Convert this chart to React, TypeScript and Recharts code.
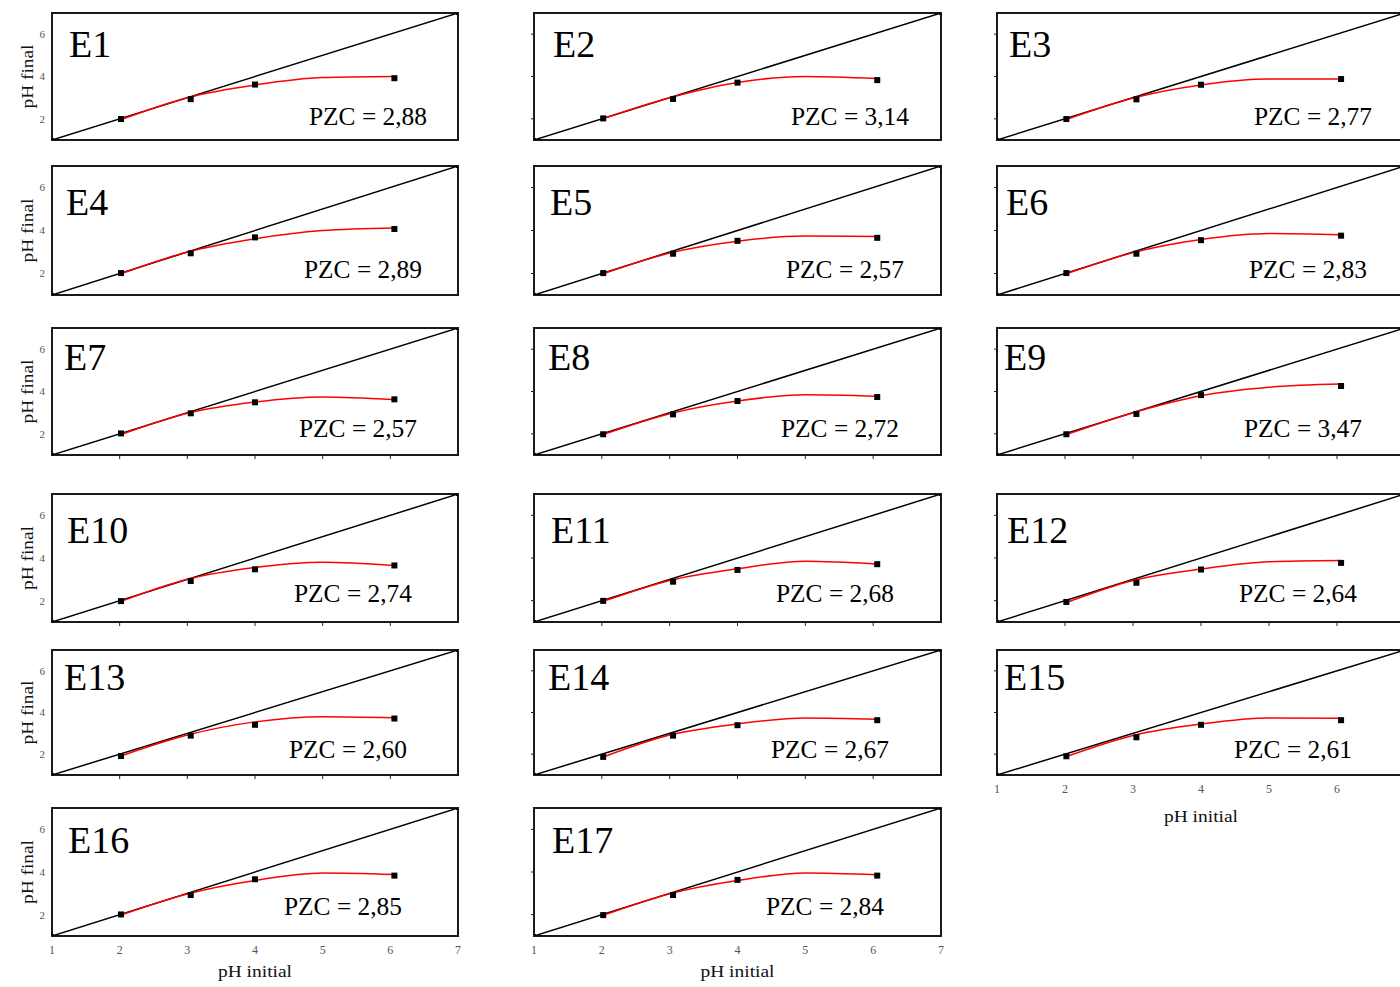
import React from 'react'
import { ComposedChart, XAxis, YAxis, Line, Scatter, ReferenceArea } from 'recharts'

const panelNames = ['E1', 'E2', 'E3', 'E4', 'E5', 'E6', 'E7', 'E8', 'E9', 'E10', 'E11', 'E12', 'E13', 'E14', 'E15', 'E16', 'E17']
const pzcValues = ['2,88', '3,14', '2,77', '2,89', '2,57', '2,83', '2,57', '2,72', '3,47', '2,74', '2,68', '2,64', '2,60', '2,67', '2,61', '2,85', '2,84']

// measured points (pH initial -> pH final)
const markerX = [2.02, 3.05, 4.0, 6.06]
const markerY = [
    [1.99, 2.93, 3.62, 3.92],
    [2.02, 2.94, 3.71, 3.83],
    [1.99, 2.92, 3.61, 3.88],
    [2.02, 2.94, 3.68, 4.07],
    [2.02, 2.92, 3.52, 3.66],
    [2.02, 2.92, 3.55, 3.76],
    [2.02, 2.97, 3.49, 3.63],
    [1.98, 2.92, 3.55, 3.74],
    [1.98, 2.94, 3.83, 4.26],
    [1.98, 2.92, 3.47, 3.65],
    [1.99, 2.89, 3.44, 3.71],
    [1.94, 2.84, 3.46, 3.77],
    [1.91, 2.89, 3.41, 3.71],
    [1.87, 2.89, 3.39, 3.63],
    [1.9, 2.81, 3.41, 3.63],
    [2.01, 2.92, 3.66, 3.83],
    [1.98, 2.92, 3.63, 3.83],
]

// red fitted curve
const curveX = [2.05, 3, 4, 5, 6.05]
const curveY = [
    [2.0, 3.0, 3.6, 3.95, 4.0],
    [2.05, 3.0, 3.72, 4.0, 3.9],
    [2.0, 2.98, 3.6, 3.88, 3.88],
    [2.02, 3.0, 3.62, 4.0, 4.12],
    [2.02, 2.95, 3.5, 3.74, 3.72],
    [2.02, 2.97, 3.58, 3.86, 3.8],
    [2.0, 2.97, 3.5, 3.74, 3.62],
    [2.0, 2.95, 3.55, 3.85, 3.78],
    [2.0, 3.0, 3.8, 4.2, 4.35],
    [2.0, 3.0, 3.55, 3.8, 3.65],
    [2.0, 2.95, 3.5, 3.85, 3.72],
    [1.95, 2.95, 3.48, 3.82, 3.88],
    [1.95, 2.92, 3.55, 3.8, 3.75],
    [1.9, 2.92, 3.45, 3.74, 3.68],
    [1.92, 2.9, 3.45, 3.74, 3.72],
    [2.02, 2.97, 3.6, 3.95, 3.88],
    [2.0, 2.98, 3.6, 3.95, 3.87],
]

const diagonal = [1, 7]
const axisTicks = [1, 2, 3, 4, 5, 6, 7]

// layout
const colLeft = [52, 534, 997]
const colWidth = [406, 407, 408]
const rowTop = [13, 166, 328, 494, 650, 808]
const rowBottom = [140, 295, 455, 622, 775, 936]
const titleDx = [14, 16, 9]
const titleRowDx = [3, 0, -2, 1, -2, 2]
const titleDy = [44, 49, 42, 49, 40, 45]
const pzcDy = [15, 17, 18, 20, 17, 21]

const AXIS_W = 50
const AXIS_H = 60
const PAD_T = 10
const PAD_R = 10
const SERIF = "'Liberation Serif', 'Times New Roman', serif"

const noLabel = () => <g />

function Panel({ index }: { index: number }) {
    const row = Math.floor(index / 3)
    const col = index % 3
    const boxW = colWidth[col]
    const boxH = rowBottom[row] - rowTop[row]
    const isBottom = index >= 14

    const markers = markerX.map((x, k) => ({ x, y: markerY[index][k] }))
    const curve = curveX.map((x, k) => ({ x, y: curveY[index][k] }))
    const diag = diagonal.map(v => ({ x: v, y: v }))

    const yTicks = col === 2 ? [2, 3, 4, 5, 6] : [2, 4, 6]
    const xTickLines = !isBottom && row >= 2

    const boxText = (props: any) => {
        const vb = props.viewBox || {}
        const x = vb.x
        const y = vb.y
        const w = vb.width
        const h = vb.height
        return (
            <g fontFamily={SERIF}>
                <text x={x + titleDx[col] + titleRowDx[row]} y={y + titleDy[row]} fontSize={38} fill="#000">
                    {panelNames[index]}
                </text>
                <text
                    x={x + 257 - 5 * row}
                    y={y + h - pzcDy[row]}
                    fontSize={26}
                    fill="#000"
                    textLength={118}
                    lengthAdjust="spacingAndGlyphs"
                >
                    {'PZC = ' + pzcValues[index]}
                </text>
                {col === 0 && (
                    <text
                        x={x - 25}
                        y={y + h / 2}
                        fontSize={16}
                        fill="#111"
                        textAnchor="middle"
                        dominantBaseline="central"
                        textLength={64}
                        lengthAdjust="spacingAndGlyphs"
                        transform={`rotate(-90 ${x - 25} ${y + h / 2})`}
                    >
                        pH final
                    </text>
                )}
                {isBottom && (
                    <text
                        x={x + w / 2}
                        y={y + h + (index === 14 ? 47 : 41)}
                        fontSize={17}
                        fill="#111"
                        textAnchor="middle"
                        textLength={74}
                        lengthAdjust="spacingAndGlyphs"
                    >
                        pH initial
                    </text>
                )}
            </g>
        )
    }

    return (
        <div style={{ position: 'absolute', left: colLeft[col] - AXIS_W, top: rowTop[row] - PAD_T }}>
            <ComposedChart
                width={AXIS_W + boxW + PAD_R}
                height={PAD_T + boxH + AXIS_H}
                margin={{ top: PAD_T, right: PAD_R, bottom: 0, left: 0 }}
            >
                <XAxis
                    type="number"
                    dataKey="x"
                    domain={[1, 7]}
                    allowDataOverflow
                    height={AXIS_H}
                    axisLine={false}
                    ticks={isBottom ? axisTicks : [2, 3, 4, 5, 6]}
                    tickSize={4}
                    tickMargin={5}
                    tickLine={xTickLines ? { stroke: '#222' } : false}
                    tick={isBottom ? { fontSize: 12, fill: '#555', fontFamily: SERIF } : noLabel}
                />
                <YAxis
                    type="number"
                    dataKey="y"
                    domain={[1, 7]}
                    allowDataOverflow
                    width={AXIS_W}
                    axisLine={false}
                    ticks={yTicks}
                    tickSize={3}
                    tickMargin={4}
                    tickLine={col === 0 ? false : { stroke: '#222' }}
                    tick={col === 0 ? { fontSize: 11, fill: '#555', fontFamily: SERIF } : noLabel}
                />
                <ReferenceArea
                    x1={1}
                    x2={7}
                    y1={1}
                    y2={7}
                    fill="none"
                    stroke="#1a1a1a"
                    strokeWidth={2}
                    label={boxText}
                />
                <Line
                    data={diag}
                    dataKey="y"
                    stroke="#000"
                    strokeWidth={1.5}
                    dot={(p: any) => (
                        <rect key={'d' + p.index} x={p.cx - 2} y={p.cy - 2} width={4} height={4} fill="#000" />
                    )}
                    isAnimationActive={false}
                />
                <Line
                    data={curve}
                    dataKey="y"
                    type="monotone"
                    stroke="#ff0000"
                    strokeWidth={1.5}
                    dot={false}
                    isAnimationActive={false}
                />
                <Scatter
                    data={markers}
                    dataKey="y"
                    isAnimationActive={false}
                    shape={(p: any) => (
                        <rect x={p.cx - 3} y={p.cy - 3} width={6} height={6} fill="#000" />
                    )}
                />
            </ComposedChart>
        </div>
    )
}

export default function App() {
    return (
        <div
            style={{
                position: 'absolute',
                left: 0,
                top: 0,
                width: 1400,
                height: 987,
                overflow: 'hidden',
                background: '#fff',
            }}
        >
            {panelNames.map((name, i) => (
                <Panel key={name} index={i} />
            ))}
        </div>
    )
}
